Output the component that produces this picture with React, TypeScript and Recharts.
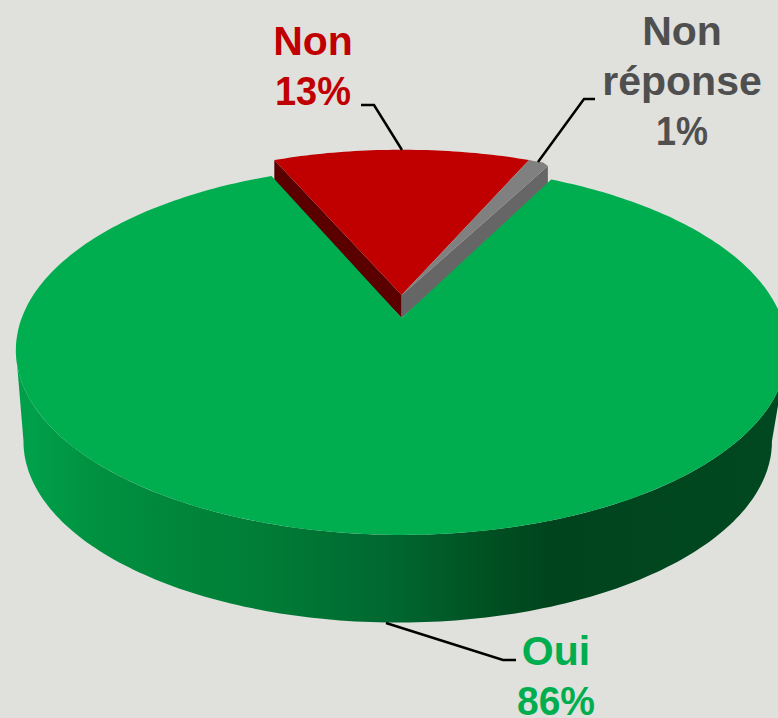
import { PieChart, Pie } from "recharts";

const categories = ["Non", "Non réponse", "Oui"];
const percents = [13, 1, 86];
const topColors = ["#C00000", "#808080", "#00AE50"];
const wallColors = ["#5A0000", "#666666", "url(#ouiWall)"];
const textColors = ["#C00000", "#4F4F4F", "#00AE50"];

const pieData = categories.map((name, i) => ({ name, value: percents[i], fill: topColors[i] }));

// annotation layout, per category
const labelLayout: Record<string, { x: number; baseline: number; leader: string; percentWidth: number }> = {
  Non: { x: 313, baseline: 55, leader: "361,105 374,105 402,150", percentWidth: 76 },
  "Non réponse": { x: 682, baseline: 45, leader: "595,99 584,99 538,162", percentWidth: 52 },
  Oui: { x: 556, baseline: 665, leader: "386,623 503,660 516,660", percentWidth: 78 },
};

// perspective of the tilted disc
const TILT = 0.173;
const SQUASH = 0.472;
const SIDE_DROP = 92;
const SIDE_SHIFT = -4;
const SLICE_LIFT = 23;
const SLICE_DEPTH = 23;

function project(cx: number, cy: number, r: number, deg: number, sx = 1, sy = 1) {
  const rad = (deg * Math.PI) / 180;
  const w = 1 + TILT * Math.sin(rad);
  return [cx + (r * sx * Math.cos(rad)) / w, cy - (r * SQUASH * sy * Math.sin(rad)) / w];
}

function arc(cx: number, cy: number, r: number, from: number, to: number, sx = 1, sy = 1) {
  const steps = Math.max(2, Math.ceil(Math.abs(to - from)));
  const pts: number[][] = [];
  for (let i = 0; i <= steps; i++) pts.push(project(cx, cy, r, from + ((to - from) * i) / steps, sx, sy));
  return pts;
}

const toPath = (pts: number[][]) => "M" + pts.map((p) => p[0].toFixed(1) + " " + p[1].toFixed(1)).join("L") + "Z";

function DiscSlice(props: any) {
  const { cx, cy, outerRadius: r, startAngle, endAngle, fill, percent } = props;
  const name = props.payload?.name ?? props.name;
  const idx = categories.indexOf(name);

  if (percent > 0.5) {
    // the big slice: side wall first, then the top face
    const edge = (Math.asin(TILT) * 180) / Math.PI;
    const wallTop = arc(cx, cy, r, 180 + edge, 360 - edge);
    const wallBottom = arc(cx + SIDE_SHIFT, cy + SIDE_DROP, r, 360 - edge, 180 + edge, 0.97, 0.98);
    return (
      <g>
        <path d={toPath([...wallTop, ...wallBottom])} fill={wallColors[idx]} />
        <path d={toPath([[cx, cy], ...arc(cx, cy, r, startAngle, endAngle)])} fill={fill} />
      </g>
    );
  }

  // pulled-out slices sit a little higher, the big slice hides most of their walls
  const apexY = cy - SLICE_LIFT;
  const sx = 0.978;
  const sy = 0.95;
  const top = arc(cx, apexY, r, startAngle, endAngle, sx, sy);
  // the grey slice's far corner drops a bit in the reference
  if (name !== "Non") top[top.length - 1] = project(cx, apexY, r, endAngle, sx, 0.931);
  const outer = name === "Non" ? top[0] : top[top.length - 1];
  return (
    <g>
      <path
        d={toPath([
          [cx, apexY],
          outer,
          [outer[0], outer[1] + SLICE_DEPTH],
          [cx, apexY + SLICE_DEPTH],
        ])}
        fill={wallColors[idx]}
      />
      <path d={toPath([[cx, apexY], ...top])} fill={fill} />
    </g>
  );
}

function renderLabel(props: any) {
  const name = props.payload?.name ?? props.name;
  const idx = categories.indexOf(name);
  const layout = labelLayout[name];
  const lines = [...name.split(" "), percents[idx] + "%"];
  return (
    <g key={name}>
      <polyline points={layout.leader} fill="none" stroke="#000" strokeWidth={2.5} />
      {lines.map((line: string, i: number) => {
        const isPercent = i === lines.length - 1;
        return (
          <text
            key={line}
            x={layout.x}
            y={layout.baseline + i * 49.8}
            textAnchor="middle"
            fontFamily="'Liberation Sans', Arial, sans-serif"
            fontWeight="bold"
            fontSize={41}
            fill={textColors[idx]}
            textLength={isPercent ? layout.percentWidth : undefined}
            lengthAdjust={isPercent ? "spacingAndGlyphs" : undefined}
          >
            {line}
          </text>
        );
      })}
    </g>
  );
}

export default function App() {
  return (
    <div style={{ position: "absolute", left: 0, top: 0, width: 778, height: 718, background: "#E0E0DC", overflow: "hidden" }}>
      <PieChart width={778} height={718} margin={{ top: 0, right: 0, bottom: 0, left: 0 }}>
        <defs>
          <linearGradient id="ouiWall" gradientUnits="userSpaceOnUse" x1={15} y1={0} x2={778} y2={0}>
            <stop offset="0.02" stopColor="#00A04A" />
            <stop offset="0.11" stopColor="#009040" />
            <stop offset="0.35" stopColor="#007A35" />
            <stop offset="0.5" stopColor="#006630" />
            <stop offset="0.62" stopColor="#005022" />
            <stop offset="0.7" stopColor="#00441E" />
            <stop offset="1" stopColor="#004820" />
          </linearGradient>
        </defs>
        <Pie
          data={pieData}
          dataKey="value"
          nameKey="name"
          cx={401.7}
          cy={318}
          innerRadius={0}
          outerRadius={380}
          startAngle={113.4}
          endAngle={-246.6}
          stroke="none"
          isAnimationActive={false}
          shape={DiscSlice}
          inactiveShape={DiscSlice}
          activeShape={DiscSlice}
          label={renderLabel}
          labelLine={false}
        />
      </PieChart>
    </div>
  );
}
